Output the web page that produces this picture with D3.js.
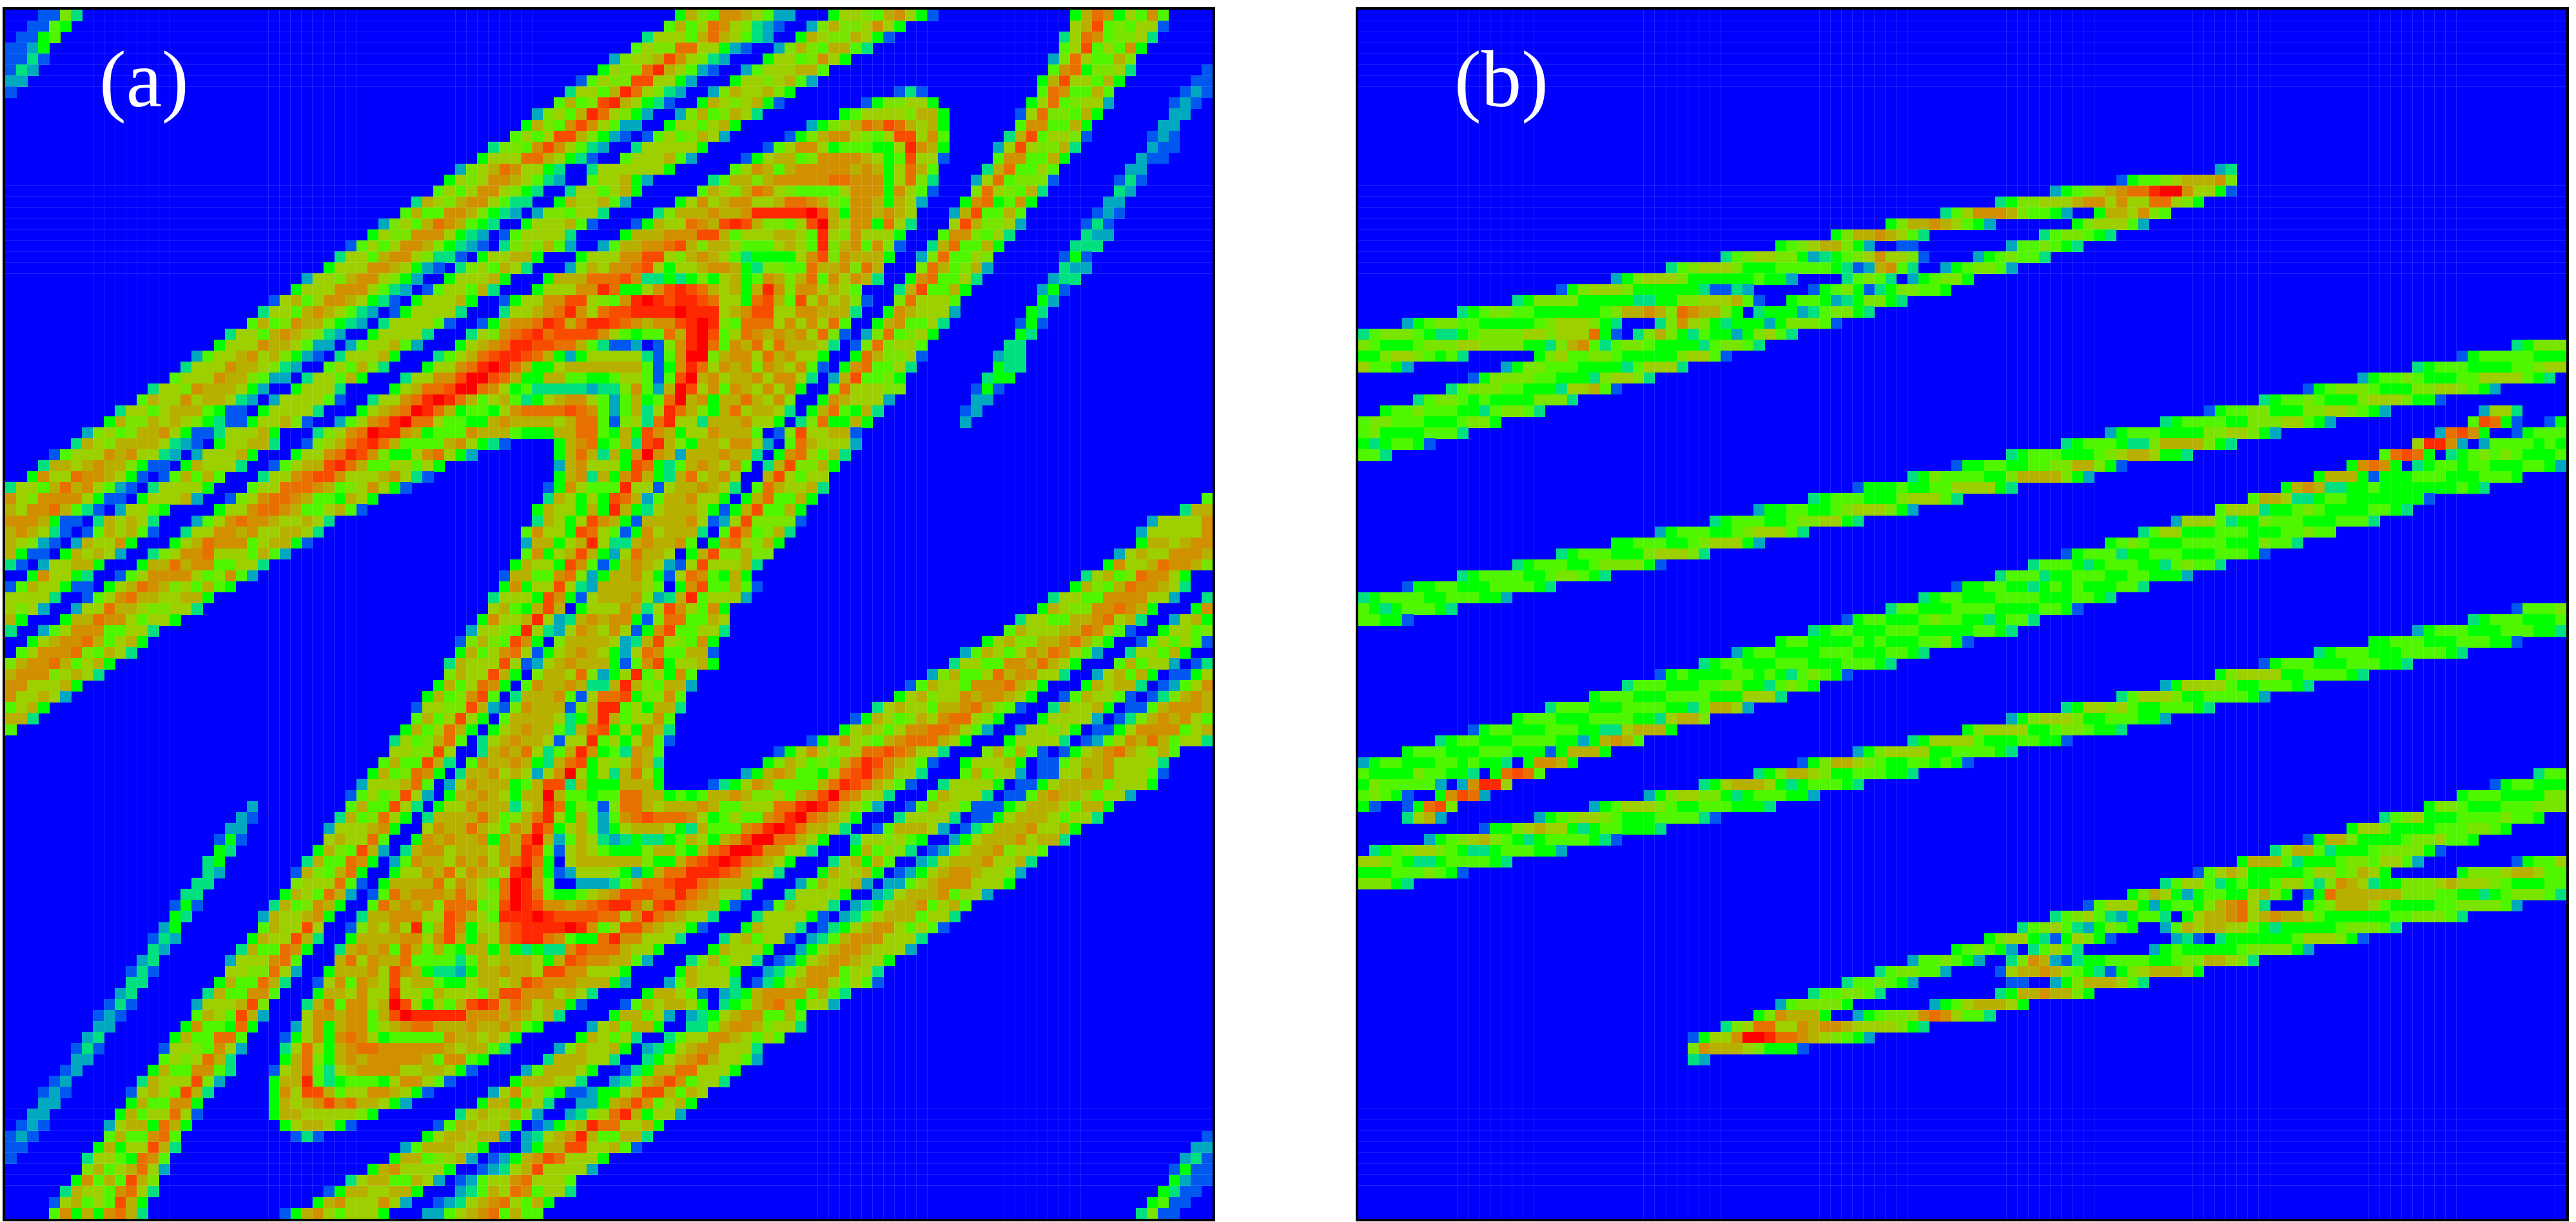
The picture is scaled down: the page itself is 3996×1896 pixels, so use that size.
<!DOCTYPE html>
<html>
<head>
<meta charset="utf-8">
<style>
  html, body { margin: 0; padding: 0; background: #fff; }
  svg { display: block; }
</style>
<script src="https://cdnjs.cloudflare.com/ajax/libs/d3/7.8.5/d3.min.js"></script>
</head>
<body>
<div id="chart"></div>
<script>
// each row: "col:levels" runs, one hex digit per cell (0 = empty, d = densest)
const rowsA = [
"3:1163 61:48659987522 75:4776589741 97:48a947595",
"2:1154 60:5857a976321 73:268667974 97:78b565771",
"1:1145 58:377758a87532 72:487668741 96:37a956673",
"0:1124 57:5766aa77421 70:268658853 96:57b57594",
"0:1131 55:26778b97632 69:47756974 95:26a75586",
"0:132 54:4766ac87521 67:25777885 95:59a46673 109:1",
"0:22 52:15766bb7742 66:47767852 94:48b77584 108:11",
"0:1 51:37758ca7632 64:26877864 81:131 94:5a95585 107:121",
"50:5856bc87431 63:48767841 78:1466774 93:47a56772 106:121",
"48:26758ca7642 61:26856873 76:4577776884 92:17a66584 106:22",
"47:48659b97522 60:4775784 73:24678a9ba8784 92:5995584 105:22",
"46:5757bb86421 58:15756872 71:1468997657bb795 91:38b57761 104:121",
"44:36659b97532 57:3777774 69:1579974555447c984 90:27b76683 104:211",
"43:4777aa87431 56:5777852 67:147885699998745b771 90:5995584 103:211",
"41:2678a97743 53:37777774 66:5798589999989847a85 89:38a5575 102:22",
"40:47679987532 53:577842 64:35886899999aa99947a63 88:27a56661 101:131",
"39:5757997643 51:3775784 63:58768a9765555799949751 88:6a76583 101:32",
"37:38768997533 50:4877852 61:4797899778aa98659984872 87:49a4594 100:22",
"36:58559986432 48:2665773 59:368889889cccccdb84998987 86:28b5585 99:121",
"34:26758a98543 47:4777851 57:14877a98bcb86657bd87994a73 86:7b86672 98:131",
"33:47669997432 45:1577773 56:4888999bb857778875c7697774 85:5996573 98:322",
"31:1575799864321 45:3676852 54:258899ab868875557875c6895961 84:38a5584 97:333",
"30:377589976331 43:477884 52:477799bb76898753444479b698884 83:26a5576 96:141",
"29:47779987421 41:3675873 51:268799ab74778998436655a8896a8 83:6a85682 96:322",
"27:27768997642 40:477784 49:4888aaab9334346478459868a597983 82:49a5573 95:233",
"26:47779997532 38:1577583 48:477799ca4479bcba87848c96997875 81:38b5584 94:241",
"24:178579987431 37:477784 45:147799bb7659cdcbccba774ab85b797861 81:6a7775 94:42",
"23:37758987532 35:1477773 45:37789ac97abbccccdccc789bb77998883 80:4987772 93:43",
"22:58569886432 34:3777751 43:14899acb8accba9899bcdc65aaa79797a5 79:4895573 92:141",
"20:37758987632 33:477773 42:3769abcabbbb975455a8cdb57a989897a61 78:26a5674 92:43",
"19:47779887522 31:2577852 41:4789accbbaa8531120169cda598a7a88873 77:16a6775 91:33",
"17:257789786421 30:377784 39:3578abccba8424777773159dd68997a89774 77:4a86671 90:233",
"16:37779887632 29:575863 38:4779acdca844788888885149ca79896987951 76:49a5573 90:433",
"15:57779886522 27:377584 36:37799bddba844885544577515bd89788979973 75:28b5564 89:344",
"13:37769888742 26:47773 35:478aabdda97453333323369528db7959879794 75:5a77766 88:141",
"12:58779788732 24:2777751 33:3779acdca857853478997525845ad89488a8796 74:4987772 88:22",
"10:377578885411 23:477773 32:4789adca8455479aaaaba9525837ca8648a78873 73:48a5483 87:12",
"9:4866878764311 22:477861 30:2579acdaa7554489888878aa51673ac7738889774 72:36a4484 87:2",
"7:267568897411 19:377784 28:3679adcc9845559888544488aa5484b9847798885016b77881",
"6:387688887321 19:477883 27:1678abca85555897431 50:489a4583bc864887997205a87772",
"4:157779897732 17:277784 26:4779acb964479a742 50:48a83849d9828889883049a7583",
"3:388789886411 16:487773 24:15788bca85577574 50:2897774ba435898795038b6684",
"2:4977a998741 14:158585 23:3779abb977789731 50:4893849b8438a7897008b7577",
"0:37758a897521 13:377774 22:577aaa985679741 49:1497555c771788987305a87783",
"0:97699997411 12:477782 20:1679aa98554874 49:387474ba825889774048a5584 109:5",
"0:8799a8531027754 19:4779aa98557851 48:4877484c843788874148b5584 107:388",
"0:99984110387873 17:2579a99877873 48:38747b9841888897127b66661 104:277779",
"0:89873101587851 16:3779989778873 47:59774ba751497888305b95683 103:2777779",
"0:876210287794 15:478a999578841 47:288478c733898895049a7684 103:4887899",
"0:84110487872 13:36799a7775852 47:59478b8427a887048b66866 101:278779998",
"0:310277884 12:488a89955773 46:48774b95148987217b77783 100:49778a9986",
"2:497743 10:1579999756952 45:188559a6248897417a95484 98:37856a9974",
"0:15877411 9:478a98675854 45:49477b732888875049b55851 97:48658a99873",
"0:77773001579a8877884 44:37774b941788896238c57772 95:377559999772003",
"0:767200277a88766773 44:78548b8047779837b97594 94:4876699a984 108:49",
"0:84 5:488a9975774 43:49778c72389899416aa5587 92:37755889a783002784",
"0:30025799955773 42:27765c7327987 55:97149b55773 91:5877788a97510047756",
"2:47899a85784 41:16865b940688887238b76594 89:47866889a864001575751",
"1:57999a65873 41:48579a71478987427a955881 87:25875798a975200377584",
"0:6899a85784 40:38777b7127898884159b47784 86:37755998a874000585772013",
"0:899967873 40:6877b8406887a6247c57495 84:268557a8997730027858401147",
"0:9977784 39:4857a940598898338c865882 82:158775999a874000487883012579",
"0:977872 38:48569b5038889517aab46695 81:47867798998740015877510136898",
"0:5784 37:17766b82169888168cc574883 79:378775889a865100387784011589998",
"0:883 37:5857b740588887348c857795 77:148756879aa7640004777720136898975",
"0:5 36:4857a840478988538ab474983 76:47875799aa975200277674011479999578",
"35:37568a503789887177c5747951 73:147976589aaa8740004777730125798a85773",
"35:7766b7003898a7358c9453985 70:14797667aaba9773000685851014789a87685",
"34:5855b830598898438ab4767983 69:46875658acb98751004777840115788977773",
"33:4856a9403889787279d74738a74 67:248985547abca97730005857720117798977751",
"32:27778a50279888458bb384448884 64:13479855558acba87510037777401147888857774",
"31:15756b720488987488d85545 55:5aa8845458898667589bda97730005877730115898875772",
"22:2 31:5855b7304779888378ca4651 55:6aa878889855777aacdca8752001587751114688875884",
"21:21 30:3856a74038888a8568ac74852 55:59abaaa97457559acda98740003777730114788875773",
"20:22 29:2777894007988a87598ca47852 55:4788874385559acdca8873001588872013588897784",
"19:141 29:7877a5004989889498bd825873 55:234334587489bddaa8740037767540024788897883",
"19:43 28:4865b82038997888798cb517875 55:444688548abddc99773000485763012578896775",
"18:34 27:3855a94025988798979aca407888 55:8886448abcdca98740003784850023788897783",
"18:32 26:18658a40047798a79887cd9412777 55:64248aacccba87730004877840124789987762",
"17:33 26:6777a51048888a79875adc9500222 55:358aabcca9888400025877820225789997774",
"16:33 25:4875a82015a89998a876adca544578 55:9bbbaaca987730003777740023788895772",
"15:141 24:3856984005a89896aaa56bdcb9989ab 55:cca8bca98841001587773023478895785",
"15:43 23:28778940038899977ba875cccdcbbbba 55:a79ca987730003777741023578885773",
"14:24 23:5877b700168797c58b9477abccccdc95 55:7bb9877410004877730134789975751",
"13:132 22:4877b8300488889979b8487abcca9544a 55:c9977730003785771023589997773",
"13:32 21:3855a9400389895a858548848434339baa 55:a877400004877740024789987772",
"12:23 20:27779a50008a7988a55553587888748ba99 55:88520003685773012478998774",
"11:131 20:7766a7200488897b9843324889887bb9977 55:7400004877740023579995773",
"11:33 19:4855a83001795987b78854478878ba999888 55:4200025877730134789975751",
"10:23 18:38559950004887977c775877758bb9997873 58:4887510234899995853",
"9:131 17:27778b600038a59978db74758bcb8a978841 56:15878874034589a84772",
"8:121 17:5875b8200079989958bdccccc999898783 55:488572023478995585",
"8:22 16:49554a400027948995789aa8889889854 53:278 55:858840033589986773",
"7:23 15:4855aa5000147949a974555559887874 52:487 55:5730035779987575",
"6:131 14:1776597200037a7489aa999999878853 50:2687774 55:84023478997773",
"6:22 14:5767a83000048a6489899999859954 49:388877 55:30034789a87752",
"5:12 13:48559953000178a537899997788741 47:2588874 55:013488aa7774",
"4:12 12:38777b62 24:488c5345554799751 46:4888773 55:23589b95773",
"3:121 11:17875b83 24:497bb8577998741 44:27957541124478bb8587",
"3:22 11:4855994 24:48789b9a88742 43:488487300224 55:89b95784",
"2:22 10:48577a71 24:4887777764 41:37877862002367 55:ac84772",
"1:121 9:27884a84 25:4788741 39:15887784012478ca 55:a7784",
"0:121 9:58559a5 26:131 38:47887882023789c85 55:5883 109:1",
"0:11 8:48477b83 36:258887740002488bb77851 108:22",
"0:1 7:37754a95 35:48856782012489ba7774 107:231",
"7:68578a72 33:489777740012378b77772 106:1411",
"6:49585b86 31:3788558720125779a7775 106:4211",
"5:387759a73 29:148877884 41:23587a95773 105:4311",
"4:178575b84 28:489777972 39:123789a7584 104:4511",
"4:594849a83 25:1489757774 38:225789a5855 103:3611"
];

const rowsB = [
"","","","","","","","","","","","","","",
"78:23",
"69:14556788896",
"63:2456789aacdd97741",
"58:34667778997977aa764",
"53:357999865542 67:4887965",
"48:4688987542 65:4677752",
"43:468898753 62:3566543",
"38:4567886420011 59:2556543",
"33:3567766423456797761 56:2456553",
"28:35677764445555543128953 53:2456652",
"23:24677764444445442 44:356530245664",
"18:146777644444431132 41:1456413466554",
"14:34666644444334466777851 39:45542346643",
"9:34566554444445688986a98864034442356643",
"4:2456655444445677764300036976434442466651",
"0:356665433456666776777a410368643544246753",
"0:6544456667766664436895356654444356653 105:34666",
"0:4467765453 16:467556654444467751 100:1455555444",
"0:75542 13:24665554444357773 96:34555444455677",
"10:14666655444367763 91:245565444557777543",
"8:3566655444377851 86:145666544466776542",
"5:356654544446663 82:34556544467776441",
"2:455655544356653 77:14556644466776542 102:2773",
"0:5665554445664 73:3455554466677542 101:5ba41 108:14",
"0:5644445553 68:2455544446677642 98:2ab94 105:14555",
"0:4345541 64:3455543368888643 96:7cc92025555454",
"0:553 59:34555444567887443 93:5aba4034565654445",
"54:1445544556688641 90:49a94034554554445542",
"50:34655554468888642 87:4888414445554445554",
"45:144454455777743 84:4898334454444444543",
"41:34555444677753 81:58873345544444441",
"36:244554456777642 78:577734456544445543",
"32:34555445667743 74:2777534465554445553",
"27:24555445677753 71:357744455544455655",
"23:44555445677742 68:456544455554446553",
"18:34555444677763 64:1455534455544455541",
"14:34555445666641 61:355543455544356553",
"9:34555544566543 58:355534455544554442",
"4:14455444555543 54:144554434545444553",
"0:34555544555442 51:345544455554445543",
"0:543455543 48:355444555544445541 105:15556",
"0:55441 44:145544456554434553 101:345554445",
"41:3455444555444445543 96:24555444555443",
"38:455444454544455641 92:44555444555441",
"34:245544445554445543 87:34555444555543",
"31:345544455544455543 82:14555444555443",
"27:145444455454356541 78:46777744555543",
"24:355544455664435654 73:24777754455543",
"21:455544455554447773 69:35777644555542",
"17:3555444555544358872 64:34776754455543",
"14:455544455554437886 59:246777644555442",
"10:1455444555443378884 55:467777445665443",
"7:3455444555544248985 50:347777544455441",
"4:4555444555444148884 45:246777744555543",
"0:24554445545443049984 40:1468876544554541",
"0:5444465544304aba5 36:346887644555443 107:355",
"0:46555552029cc7 31:347888743455543 103:1455444",
"0:565410049ba2 26:2467766434555442 100:4555444466",
"0:410014ab6 21:24577765445554443 97:4665444555666",
"4:3782 16:24567765444555531 93:356744455556554",
"11:14467877434554443 90:477644445556654",
"6:245678654345555431 86:1488644445667554",
"1:345677654334555442 83:3688534445666641",
"0:77654334555543 80:48885344456657752 105:14557",
"0:4445556541 76:1578744444577568740 100:4666788755",
"0:66643 73:3577534544577536987344666787776544455",
"70:468742455447864014a888888666554434566653",
"66:15777424554689a73 86:45688875444455666652",
"63:35675324553047889a78988754444445566653",
"60:35675324654002587887754344444566653",
"57:467743147641 74:231 78:34444445777641",
"54:456542035753 72:245444445666642",
"50:2556542 59:36982134455554456688763",
"47:3566552 58:1788986543146788874",
"44:3556542 59:11 63:246888753",
"41:3556653 58:348898864",
"38:2566664 52:245788874",
"36:4698884 45:2456679a97553",
"33:367aa77989987777643",
"30:14779ddcaa9876542",
"30:69888764441",
"30:32"
];

const levelColors = ["#0000ff", "#0058f0", "#00a8c0", "#00e080", "#00ff00", "#50f500", "#78e400",
                     "#9cd000", "#b8b000", "#d09000", "#e87000", "#f84c00", "#ff2800", "#ff0000"];
const panelLabels = ["(a)", "(b)"];
const nCells = 110;
// the faint seams that show up in the blue
const seamColsA = [8,9,10,11,12,13,14,15,24,25,26,27,28,29,30,31,32,41,42,43,44,45,46,47,48,74,75,76,77,78,79,80,81,82,83,84,91,92,93,94,95,96,97,98];
const seamColsB = [9,10,11,12,13,14,15,16,26,27,28,29,30,31,32,33,42,43,44,45,46,47,48,49,50,59,60,61,62,63,64,65,66,67,76,77,78,79,80,81,82,83,92,93,94,95,96,97,98,99,100,109];
const seamRows = [1,2,3,4,5,6,7,16,17,18,19,20,21,22,23,24,100,101,102,103,104,105,106,107];

const width = 3996, height = 1896;

const svg = d3.select("#chart").append("svg")
  .attr("width", width)
  .attr("height", height);

const color = d3.scaleLinear()
  .domain(d3.range(levelColors.length))
  .range(levelColors);

function parseRows(rows) {
  const cells = [];
  rows.forEach((row, r) => {
    row.split(" ").filter(s => s.includes(":")).forEach(seg => {
      const [start, digits] = seg.split(":");
      digits.split("").forEach((ch, i) => {
        const level = parseInt(ch, 16);
        if (level > 0 && +start + i < nCells) cells.push({col: +start + i, row: r, level});
      });
    });
  });
  return cells;
}

function drawPanel(rows, label, x0, x1, labelX, seamCols) {
  const x = d3.scaleBand().domain(d3.range(nCells)).range([x0, x1]);
  const y = d3.scaleBand().domain(d3.range(nCells)).range([15, 1891]);
  const g = svg.append("g");

  g.append("rect")
    .attr("x", x0).attr("y", 15)
    .attr("width", x1 - x0).attr("height", 1891 - 15)
    .attr("fill", color(0));

  g.append("g").attr("shape-rendering", "crispEdges")
    .selectAll("rect")
    .data(parseRows(rows))
    .enter()
    .append("rect")
    .attr("x", d => x(d.col))
    .attr("y", d => y(d.row))
    .attr("width", x.bandwidth() + 0.5)
    .attr("height", y.bandwidth() + 0.5)
    .attr("fill", d => color(d.level));

  const seams = g.append("g").attr("shape-rendering", "crispEdges")
    .attr("stroke", "#fff").attr("stroke-opacity", 0.12);
  seams.selectAll("line.c").data(seamCols).enter().append("line")
    .attr("class", "c")
    .attr("x1", d => x(d)).attr("x2", d => x(d))
    .attr("y1", 15).attr("y2", 1891);
  seams.selectAll("line.r").data(seamRows).enter().append("line")
    .attr("class", "r")
    .attr("x1", x0).attr("x2", x1)
    .attr("y1", d => y(d)).attr("y2", d => y(d));

  g.append("rect")
    .attr("x", x0 - 2).attr("y", 13)
    .attr("width", x1 - x0 + 4).attr("height", 1891 - 15 + 4)
    .attr("fill", "none")
    .attr("stroke", "#000")
    .attr("stroke-width", 4);

  g.append("text")
    .attr("x", labelX)
    .attr("y", 165)
    .attr("fill", "#fff")
    .attr("font-family", "'Liberation Serif', serif")
    .attr("font-size", 125)
    .text(label);
}

drawPanel(rowsA, panelLabels[0], 8, 1881, 154, seamColsA);
drawPanel(rowsB, panelLabels[1], 2107, 3981, 2256, seamColsB);
</script>
</body>
</html>
